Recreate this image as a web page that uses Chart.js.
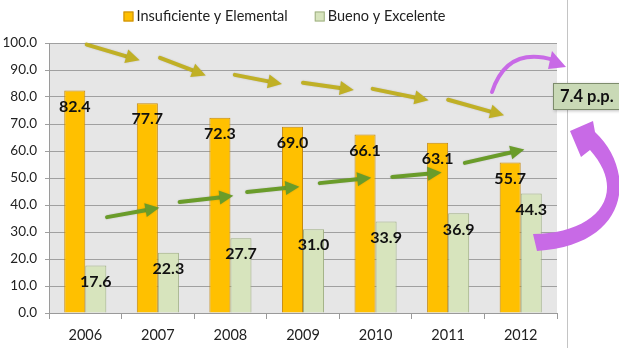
<!DOCTYPE html>
<html>
<head>
<meta charset="utf-8">
<script src="https://cdn.jsdelivr.net/npm/chart.js@4.4.0/dist/chart.umd.min.js"></script>
<style>
  html, body { margin: 0; padding: 0; background: #fff; }
  #wrap { width: 619px; height: 348px; position: relative; }
</style>
</head>
<body>
<div id="wrap"><canvas id="grafica"></canvas></div>
<script>
// Datos por año
const anios = ['2006', '2007', '2008', '2009', '2010', '2011', '2012'];
const insuficienteElemental = [82.4, 77.7, 72.3, 69.0, 66.1, 63.1, 55.7];
const buenoExcelente = [17.6, 22.3, 27.7, 31.0, 33.9, 36.9, 44.3];
const ticksY = [0, 10, 20, 30, 40, 50, 60, 70, 80, 90, 100];

// Flechas de tendencia: [índice de categoría, valor] de inicio y de fin
const flechasBaja = [
  [[0.02, 99.4], [0.75, 93.6]],
  [[1.03, 94.5], [1.66, 88.0]],
  [[2.06, 88.2], [2.71, 84.8]],
  [[3.00, 85.3], [3.70, 82.6]],
  [[3.96, 83.0], [4.73, 78.8]],
  [[5.00, 79.0], [5.77, 73.2]]
];
const flechasSube = [
  [[0.30, 35.5], [1.02, 39.0]],
  [[1.30, 41.1], [2.04, 43.4]],
  [[2.23, 44.8], [2.95, 46.8]],
  [[3.23, 48.1], [3.94, 50.1]],
  [[4.23, 50.4], [4.91, 52.0]],
  [[5.23, 55.6], [6.05, 60.6]]
];

// Diferencia del último año en puntos porcentuales
const ultimo = insuficienteElemental.length - 1;
const diferencia = (insuficienteElemental[ultimo - 1] - insuficienteElemental[ultimo]).toFixed(1);

const fuente = 'Lato, "Open Sans", sans-serif';

function flecha(ctx, x0, y0, x1, y1, color, grosor, largoPunta, anchoPunta) {
  const ang = Math.atan2(y1 - y0, x1 - x0);
  const bx = x1 - Math.cos(ang) * largoPunta;
  const by = y1 - Math.sin(ang) * largoPunta;
  ctx.save();
  ctx.strokeStyle = color;
  ctx.fillStyle = color;
  ctx.lineWidth = grosor;
  ctx.lineCap = 'round';
  ctx.shadowColor = 'rgba(0,0,0,0.15)';
  ctx.shadowBlur = 2;
  ctx.beginPath();
  ctx.moveTo(x0, y0);
  ctx.lineTo(bx, by);
  ctx.stroke();
  ctx.beginPath();
  ctx.moveTo(x1, y1);
  ctx.lineTo(bx + Math.sin(ang) * anchoPunta / 2, by - Math.cos(ang) * anchoPunta / 2);
  ctx.lineTo(bx - Math.sin(ang) * anchoPunta / 2, by + Math.cos(ang) * anchoPunta / 2);
  ctx.closePath();
  ctx.fill();
  ctx.restore();
}

// Fondo gris del área y línea vertical de la lámina
const fondo = {
  id: 'fondo',
  beforeDraw(chart) {
    const { ctx, chartArea: a } = chart;
    ctx.save();
    ctx.fillStyle = '#e6e6e6';
    ctx.fillRect(a.left, a.top, a.right - a.left, a.bottom - a.top);
    ctx.strokeStyle = '#c4c4c4';
    ctx.lineWidth = 1;
    ctx.beginPath();
    ctx.moveTo(a.right + 10.5, 0);
    ctx.lineTo(a.right + 10.5, chart.height);
    ctx.stroke();
    ctx.restore();
  }
};

// Leyenda propia con la caja pegada al texto
const leyenda = {
  id: 'leyenda',
  afterDraw(chart) {
    const ctx = chart.ctx;
    const a = chart.chartArea;
    const caja = 10, hueco = 3, separacion = 27, y = 16.5;
    ctx.save();
    ctx.font = '14.5px ' + fuente;
    ctx.textBaseline = 'middle';
    const items = chart.data.datasets.map(ds => ({ ds, w: ctx.measureText(ds.label).width }));
    const total = items.reduce((s, it) => s + caja + hueco + it.w, 0) + separacion * (items.length - 1);
    let x = (a.right + 12) / 2 - total / 2;
    items.forEach(({ ds, w }) => {
      ctx.fillStyle = ds.backgroundColor;
      ctx.fillRect(x, y - caja / 2, caja, caja);
      ctx.strokeStyle = ds.borderColor;
      ctx.lineWidth = 1;
      ctx.strokeRect(x + 0.5, y - caja / 2 + 0.5, caja - 1, caja - 1);
      ctx.fillStyle = '#222';
      ctx.fillText(ds.label, x + caja + hueco, y);
      x += caja + hueco + w + separacion;
    });
    ctx.restore();
  }
};

// Valores encima de cada barra
const etiquetas = {
  id: 'etiquetas',
  afterDatasetsDraw(chart) {
    const ctx = chart.ctx;
    ctx.save();
    ctx.font = 'bold 16px ' + fuente;
    ctx.fillStyle = '#111';
    ctx.textAlign = 'center';
    ctx.textBaseline = 'middle';
    chart.data.datasets.forEach((ds, i) => {
      chart.getDatasetMeta(i).data.forEach((barra, j) => {
        ctx.fillText(ds.data[j].toFixed(1), barra.x, barra.y + 16);
      });
    });
    ctx.restore();
  }
};

// Flechas, curvas y recuadro de la diferencia
const anotaciones = {
  id: 'anotaciones',
  afterDraw(chart) {
    const { ctx, chartArea: a } = chart;
    const sx = chart.scales.x, sy = chart.scales.y;
    const px = (i) => sx.getPixelForValue(0) + i * (sx.getPixelForValue(1) - sx.getPixelForValue(0));
    flechasBaja.forEach(([p, q]) => flecha(ctx, px(p[0]), sy.getPixelForValue(p[1]), px(q[0]), sy.getPixelForValue(q[1]), '#c0b026', 4, 14, 14));
    flechasSube.forEach(([p, q]) => flecha(ctx, px(p[0]), sy.getPixelForValue(p[1]), px(q[0]), sy.getPixelForValue(q[1]), '#6a9c2a', 4, 14, 14));

    const r = a.right;
    ctx.save();
    // curva pequeña
    ctx.strokeStyle = '#c86ae6';
    ctx.fillStyle = '#c86ae6';
    ctx.lineWidth = 4;
    ctx.lineCap = 'round';
    ctx.beginPath();
    ctx.moveTo(r - 65, 92);
    ctx.quadraticCurveTo(r - 50, 46, r - 3, 60);
    ctx.stroke();
    ctx.beginPath();
    ctx.moveTo(r + 9, 67);
    ctx.lineTo(r - 5, 51);
    ctx.lineTo(r - 9, 69);
    ctx.closePath();
    ctx.fill();

    // curva grande
    ctx.beginPath();
    ctx.moveTo(r - 24, 234);
    ctx.bezierCurveTo(r + 38, 234, r + 73, 195, r + 33, 150);
    ctx.lineTo(r + 24, 157);
    ctx.lineTo(r + 13, 131);
    ctx.lineTo(r + 36, 121);
    ctx.lineTo(r + 38, 132);
    ctx.bezierCurveTo(r + 79, 170, r + 75, 245, r - 20, 251);
    ctx.closePath();
    ctx.fill();

    // recuadro
    ctx.shadowColor = 'rgba(0,0,0,0.25)';
    ctx.shadowBlur = 3;
    ctx.shadowOffsetX = 1;
    ctx.shadowOffsetY = 1;
    ctx.fillStyle = '#c9d9b6';
    ctx.fillRect(r - 4, 83, 80, 27);
    ctx.shadowColor = 'transparent';
    ctx.strokeStyle = '#7d8c6c';
    ctx.lineWidth = 1;
    ctx.strokeRect(r - 3.5, 83.5, 80, 26);
    ctx.font = 'bold 16.5px ' + fuente;
    ctx.fillStyle = '#111';
    ctx.textBaseline = 'middle';
    ctx.fillText(diferencia + ' p.p.', r + 3, 97);
    ctx.restore();
  }
};

new Chart(document.getElementById('grafica'), {
  type: 'bar',
  data: {
    labels: anios,
    datasets: [
      {
        label: 'Insuficiente y Elemental',
        data: insuficienteElemental,
        backgroundColor: '#ffc000',
        borderColor: '#c58a10',
        borderWidth: 1
      },
      {
        label: 'Bueno y Excelente',
        data: buenoExcelente,
        backgroundColor: '#d7e4bd',
        borderColor: '#9fb083',
        borderWidth: 1
      }
    ]
  },
  options: {
    responsive: true,
    maintainAspectRatio: false,
    animation: false,
    categoryPercentage: 0.58,
    barPercentage: 1,
    layout: { padding: { top: 43, right: 62, bottom: 0, left: 0 } },
    plugins: {
      tooltip: { enabled: false },
      legend: { display: false }
    },
    scales: {
      x: {
        afterFit(scale) { scale.height = 35; },
        grid: { drawOnChartArea: false, drawTicks: true, tickLength: 6, color: '#9a9a9a' },
        border: { color: '#9a9a9a' },
        ticks: { color: '#222', padding: 8, font: { family: fuente, size: 14.5 } }
      },
      y: {
        min: 0,
        max: 100,
        afterFit(scale) { scale.width = 49; },
        afterBuildTicks(scale) { scale.ticks = ticksY.map(v => ({ value: v })); },
        grid: { color: '#a0a0a0', tickLength: 4 },
        border: { color: '#9a9a9a' },
        ticks: {
          color: '#222',
          padding: 8,
          font: { family: fuente, size: 13.5 },
          callback: (v) => v.toFixed(1)
        }
      }
    }
  },
  plugins: [fondo, etiquetas, anotaciones, leyenda]
});
</script>
</body>
</html>
